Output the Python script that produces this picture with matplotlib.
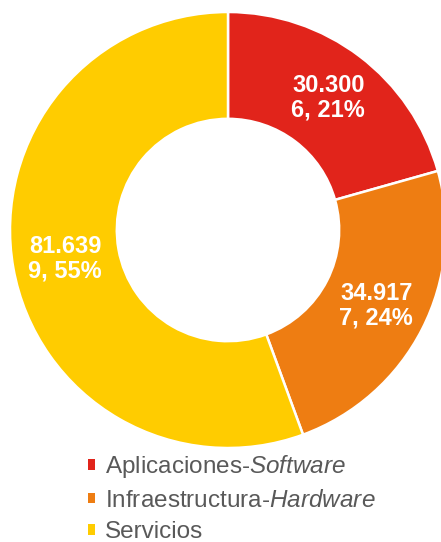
import matplotlib
matplotlib.use('Agg')
import matplotlib.pyplot as plt

plt.rcParams['font.family'] = ['Liberation Sans', 'DejaVu Sans']
plt.rcParams['mathtext.fontset'] = 'custom'
plt.rcParams['mathtext.rm'] = 'Liberation Sans'
plt.rcParams['mathtext.it'] = 'Liberation Sans:italic'

categorias = ['Aplicaciones-$\\mathit{Software}$',
              'Infraestructura-$\\mathit{Hardware}$',
              'Servicios']
valores = [30.3006, 34.9177, 81.6399]
etiquetas = ['30.300\n6, 21%', '34.917\n7, 24%', '81.639\n9, 55%']
colores = ['#E1241B', '#EE7D12', '#FFCC00']

fig = plt.figure(figsize=(4.41, 5.42), dpi=100)
W, H = 441, 542
cx, cy, r = 228, 230, 218
ax = fig.add_axes([(cx - r) / W, (H - cy - r) / H, 2 * r / W, 2 * r / H])

wedges, texts = ax.pie(valores, labels=etiquetas, colors=colores,
                       startangle=90, counterclock=False,
                       radius=1, labeldistance=0.76,
                       wedgeprops=dict(width=0.49, edgecolor='white', linewidth=1.8),
                       textprops=dict(color='white', fontsize=17, fontweight='bold'))
for t in texts:
    t.set_ha('center')
    t.set_va('center')
    t.set_multialignment('right')
    t.set_linespacing(1.08)
ax.set_xlim(-1, 1)
ax.set_ylim(-1, 1)
ax.set_aspect('equal')
ax.axis('off')

leg = fig.legend(wedges, categorias, loc='upper left',
                 bbox_to_anchor=(88 / W, 1 - 453 / H),
                 frameon=False, fontsize=17.5, handlelength=0.3, handleheight=0.3,
                 handletextpad=0.38, labelspacing=0.4, borderaxespad=0, borderpad=0)
for t in leg.get_texts():
    t.set_color('#595959')
for h in leg.legend_handles:
    h.set_edgecolor('none')

fig.savefig('out.png', dpi=100)
